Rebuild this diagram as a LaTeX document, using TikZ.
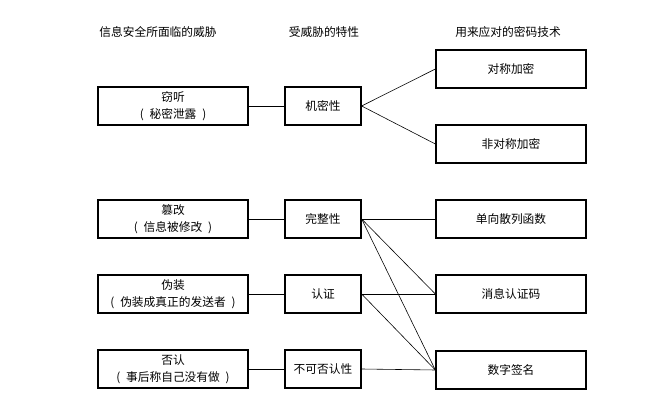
\documentclass[tikz,border=0pt]{standalone}
\usepackage{fontspec}
\setmainfont{Noto Sans CJK SC}
\usepackage{tikz}
\usetikzlibrary{positioning}
\tikzset{
  threat/.style={draw, line width=1.1pt, minimum width=4.5cm, minimum height=1.14cm, align=center, font=\fontsize{10}{14.5}\selectfont},
  prop/.style={draw, line width=1.1pt, minimum width=2.28cm, minimum height=1.14cm, align=center, font=\fontsize{10}{14.5}\selectfont},
  tech/.style={draw, line width=1.1pt, minimum width=4.5cm, minimum height=1.14cm, align=center, font=\fontsize{10}{14.5}\selectfont},
  head/.style={font=\fontsize{10}{12}\selectfont},
  link/.style={draw, line width=0.5pt}
}

\begin{document}
\begin{tikzpicture}[x=0.03cm, y=-0.03cm]
  \useasboundingbox (0,0) rectangle (650,405);

  % column headers
  \node[head] (hThreat) at (158, 32) {信息安全所面临的威胁};
  \node[head] (hProp)   at (324, 32) {受威胁的特性};
  \node[head] (hTech)   at (508, 32) {用来应对的密码技术};

  % threats
  \node[threat] (eaves) at (173, 106) {窃听\\(\enspace 秘密泄露\enspace )};
  \node[threat] (tamper) at (173, 219) {篡改\\(\enspace 信息被修改\enspace )};
  \node[threat] (spoof) at (173, 294) {伪装\\(\enspace 伪装成真正的发送者\enspace )};
  \node[threat] (deny) at (173, 369) {否认\\(\enspace 事后称自己没有做\enspace )};

  % properties
  \node[prop] (conf) at (323, 106) {机密性};
  \node[prop] (integ) at (323, 219) {完整性};
  \node[prop] (auth) at (323, 294) {认证};
  \node[prop] (nonrep) at (323, 369) {不可否认性};

  % techniques
  \node[tech] (sym) at (511, 69) {对称加密};
  \node[tech] (asym) at (511, 144) {非对称加密};
  \node[tech] (hash) at (511, 219) {单向散列函数};
  \node[tech] (mac) at (511, 294) {消息认证码};
  \node[tech] (sig) at (511, 370) {数字签名};

  % threat -> property
  \draw[link] (eaves) -- (conf);
  \draw[link] (tamper) -- (integ);
  \draw[link] (spoof) -- (auth);
  \draw[link] (deny) -- (nonrep);

  % property -> technique
  \draw[link] (conf.east) -- (sym.west);
  \draw[link] (conf.east) -- (asym.west);
  \draw[link] (integ.east) -- (hash.west);
  \draw[link] (integ.east) -- (mac.west);
  \draw[link] (integ.east) -- (sig.west);
  \draw[link] (auth.east) -- (mac.west);
  \draw[link] (auth.east) -- (sig.west);
  \draw[link] (nonrep.east) -- (sig.west);
\end{tikzpicture}
\end{document}
